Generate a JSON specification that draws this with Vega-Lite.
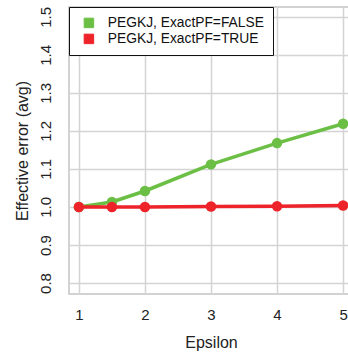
{
  "$schema": "https://vega.github.io/schema/vega-lite/v6.json",
  "autosize": "none",
  "padding": {"left": 69, "top": 7, "right": 0, "bottom": 60},
  "width": 284,
  "height": 287,
  "background": "white",
  "config": {
    "font": "Liberation Sans",
    "view": {"stroke": "#c4c4c4", "strokeWidth": 1.5},
    "axis": {"gridColor": "#d4d4d4", "gridWidth": 1.5, "domain": false, "ticks": false, "labelColor": "#222", "titleColor": "#222", "titleFontWeight": "normal", "labelFont": "Liberation Sans", "titleFont": "Liberation Sans"}
  },
  "data": {"values": [
    {"epsilon": 1, "error": 1.0, "series": "PEGKJ, ExactPF=FALSE"},
    {"epsilon": 1.5, "error": 1.013, "series": "PEGKJ, ExactPF=FALSE"},
    {"epsilon": 2, "error": 1.042, "series": "PEGKJ, ExactPF=FALSE"},
    {"epsilon": 3, "error": 1.112, "series": "PEGKJ, ExactPF=FALSE"},
    {"epsilon": 4, "error": 1.168, "series": "PEGKJ, ExactPF=FALSE"},
    {"epsilon": 5, "error": 1.219, "series": "PEGKJ, ExactPF=FALSE"},
    {"epsilon": 1, "error": 1.0, "series": "PEGKJ, ExactPF=TRUE"},
    {"epsilon": 1.5, "error": 1.0, "series": "PEGKJ, ExactPF=TRUE"},
    {"epsilon": 2, "error": 1.0, "series": "PEGKJ, ExactPF=TRUE"},
    {"epsilon": 3, "error": 1.001, "series": "PEGKJ, ExactPF=TRUE"},
    {"epsilon": 4, "error": 1.002, "series": "PEGKJ, ExactPF=TRUE"},
    {"epsilon": 5, "error": 1.004, "series": "PEGKJ, ExactPF=TRUE"}
  ]},
  "encoding": {
    "x": {"field": "epsilon", "type": "quantitative",
      "scale": {"domain": [0.85, 5.15], "nice": false, "zero": false},
      "axis": {"values": [1, 2, 3, 4, 5], "title": "Epsilon", "labelFontSize": 15, "titleFontSize": 16, "labelPadding": 13, "titlePadding": 12}},
    "y": {"field": "error", "type": "quantitative",
      "scale": {"domain": [0.771, 1.526], "nice": false, "zero": false},
      "axis": {"values": [0.8, 0.9, 1.0, 1.1, 1.2, 1.3, 1.4, 1.5], "format": ".1f", "title": "Effective error (avg)", "labelAngle": -90, "labelAlign": "center", "labelBaseline": "bottom", "labelFontSize": 15, "titleFontSize": 16, "labelPadding": 16, "titlePadding": 8}},
    "color": {"field": "series", "type": "nominal",
      "scale": {"domain": ["PEGKJ, ExactPF=FALSE", "PEGKJ, ExactPF=TRUE"], "range": ["#6cbf45", "#ee2229"]},
      "legend": {"title": null, "orient": "top-left", "offset": 0, "padding": 9, "fillColor": "white", "strokeColor": "#111", "symbolType": "square", "symbolSize": 90, "symbolStrokeColor": "#333", "symbolStrokeWidth": 1, "symbolOpacity": 1, "labelFontSize": 13.8, "labelColor": "#111", "labelOffset": 12, "rowPadding": 1, "symbolOffset": 4, "cornerRadius": 0}}
  },
  "layer": [
    {"mark": {"type": "line", "strokeWidth": 3.5}},
    {"mark": {"type": "circle", "size": 110, "opacity": 1}}
  ]
}
